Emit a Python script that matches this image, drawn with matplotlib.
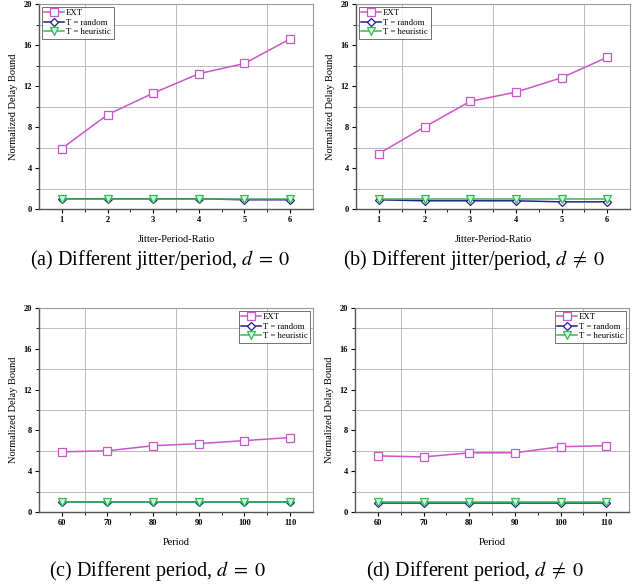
import numpy as np
import matplotlib.pyplot as plt
from matplotlib.ticker import MultipleLocator, FixedLocator

plt.rcParams['font.family'] = ['Liberation Serif', 'DejaVu Serif']
plt.rcParams['mathtext.fontset'] = 'stix'

# data
ratio = [1, 2, 3, 4, 5, 6]
period = [60, 70, 80, 90, 100, 110]

ext_a = [5.9, 9.2, 11.3, 13.2, 14.2, 16.6]
rnd_a = [1.0, 1.0, 1.0, 1.0, 0.9, 0.9]
heu_a = [1.0, 1.0, 1.0, 1.0, 1.0, 1.0]

ext_b = [5.4, 8.0, 10.5, 11.4, 12.8, 14.8]
rnd_b = [0.9, 0.8, 0.8, 0.8, 0.7, 0.7]
heu_b = [1.0, 1.0, 1.0, 1.0, 1.0, 1.0]

ext_c = [5.9, 6.0, 6.5, 6.7, 7.0, 7.3]
rnd_c = [1.0, 1.0, 1.0, 1.0, 1.0, 1.0]
heu_c = [1.0, 1.0, 1.0, 1.0, 1.0, 1.0]

ext_d = [5.5, 5.4, 5.8, 5.8, 6.4, 6.5]
rnd_d = [0.9, 0.9, 0.9, 0.9, 0.9, 0.9]
heu_d = [1.0, 1.0, 1.0, 1.0, 1.0, 1.0]

captions = ["(a) Different jitter/period, $d\\;=\\;0$",
            "(b) Different jitter/period, $d\\;\\neq\\;0$",
            "(c) Different period, $d\\;=\\;0$",
            "(d) Different period, $d\\;\\neq\\;0$"]

fig = plt.figure(figsize=(6.4, 5.88), dpi=100)

W, H = 640.0, 588.0
boxes = [(39, 4, 313, 209), (356, 4, 630, 209),
         (39, 308, 313, 512), (355, 308, 629, 512)]

panels = [(ratio, ext_a, rnd_a, heu_a, "Jitter-Period-Ratio", 'upper left'),
          (ratio, ext_b, rnd_b, heu_b, "Jitter-Period-Ratio", 'upper left'),
          (period, ext_c, rnd_c, heu_c, "Period", 'upper right'),
          (period, ext_d, rnd_d, heu_d, "Period", 'upper right')]

cap_pos = [(160, 260), (474, 260), (157, 571), (475, 571)]

for i, (x, ext, rnd, heu, xl, loc) in enumerate(panels):
    l, t, r, b = boxes[i]
    ax = fig.add_axes([l / W, 1 - b / H, (r - l) / W, (b - t) / H])
    ax.plot(x, ext, color='#cc55cc', lw=1.1, marker='s', ms=5.5,
            mfc='white', mec='#cc55cc', mew=0.9, label='EXT')
    ax.plot(x, rnd, color='#222288', lw=1.1, marker='D', ms=4.5,
            mfc='white', mec='#222288', mew=0.9, label='T = random')
    ax.plot(x, heu, color='#33bb55', lw=1.1, marker='v', ms=5.5,
            mfc='#ccffdd', mec='#33bb55', mew=0.9, label='T = heuristic')

    ax.set_ylim(0, 20)
    ax.yaxis.set_major_locator(MultipleLocator(4))
    ax.yaxis.set_minor_locator(MultipleLocator(2))
    if x == ratio:
        ax.set_xlim(0.5, 6.5)
        ax.set_xticks(ratio)
        ax.xaxis.set_minor_locator(FixedLocator([1.5, 2.5, 3.5, 4.5, 5.5]))
        vg = [1.5, 3.5, 5.5]
    else:
        ax.set_xlim(55, 115)
        ax.set_xticks(period)
        ax.xaxis.set_minor_locator(FixedLocator([65, 75, 85, 95, 105]))
        vg = [65, 85, 105]
    for v in vg:
        ax.axvline(v, color='#bbbbbb', lw=0.7, zorder=0)
    for h in [2, 6, 10, 14, 18]:
        ax.axhline(h, color='#bbbbbb', lw=0.7, zorder=0)

    ax.tick_params(axis='both', which='major', labelsize=6, length=3,
                   width=0.8, direction='out', pad=2)
    ax.tick_params(axis='both', which='minor', length=2, width=0.6,
                   direction='out')
    for lab in ax.get_xticklabels() + ax.get_yticklabels():
        lab.set_fontweight('bold')
    for s in ['left', 'bottom']:
        ax.spines[s].set_color('#555555')
        ax.spines[s].set_linewidth(1.0)
    for s in ['top', 'right']:
        ax.spines[s].set_color('#999999')
        ax.spines[s].set_linewidth(0.8)

    ax.set_xlabel(xl, fontsize=7.5, labelpad=8)
    ax.set_ylabel("Normalized Delay Bound", fontsize=7.5, labelpad=4)

    leg = ax.legend(loc=loc, fontsize=6.3, frameon=True, fancybox=False,
                    borderpad=0.3, labelspacing=0.15, handlelength=2.3,
                    handletextpad=0.2, borderaxespad=0.3, markerscale=1.0)
    leg.get_frame().set_edgecolor('#333333')
    leg.get_frame().set_linewidth(0.6)

    cx, cy = cap_pos[i]
    fig.text(cx / W, 1 - cy / H, captions[i], fontsize=14.5,
             ha='center', va='center')

fig.savefig("out.png", dpi=100)
